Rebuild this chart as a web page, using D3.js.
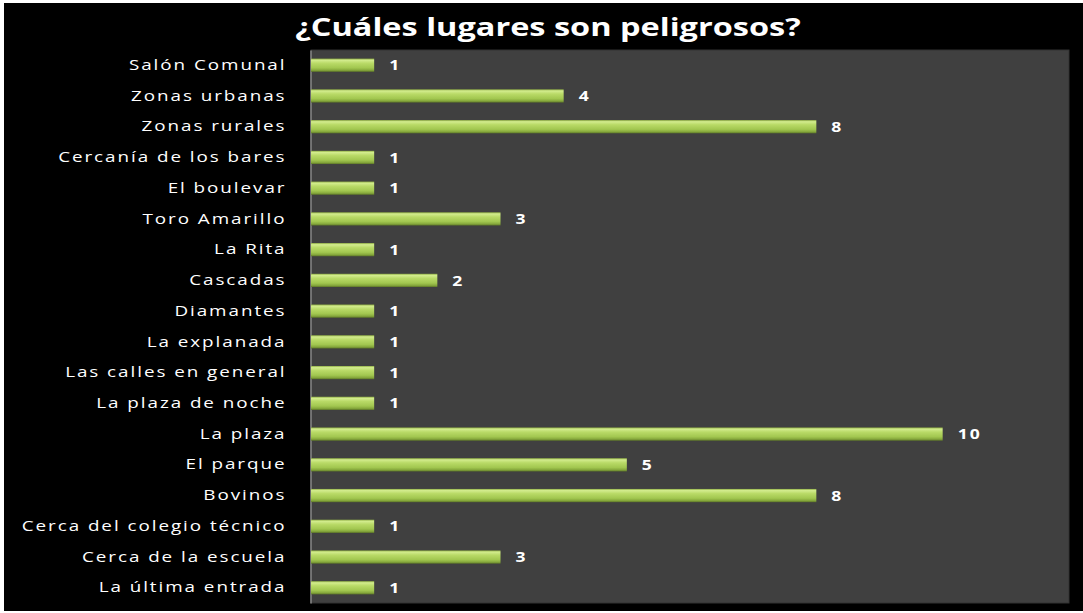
<!DOCTYPE html>
<html>
<head>
<meta charset="utf-8">
<script src="https://cdn.jsdelivr.net/npm/d3@7"></script>
<style>
  body { margin: 0; background: #fff; }
  svg { display: block; }
</style>
</head>
<body>
<div id="chart"></div>
<script>
// Data
let categories = [
  'Salón Comunal', 'Zonas urbanas', 'Zonas rurales', 'Cercanía de los bares',
  'El boulevar', 'Toro Amarillo', 'La Rita', 'Cascadas', 'Diamantes',
  'La explanada', 'Las calles en general', 'La plaza de noche', 'La plaza',
  'El parque', 'Bovinos', 'Cerca del colegio técnico', 'Cerca de la escuela',
  'La última entrada'
];
let values = [1, 4, 8, 1, 1, 3, 1, 2, 1, 1, 1, 1, 10, 5, 8, 1, 3, 1];
let title = '¿Cuáles lugares son peligrosos?';

let data = categories.map((c, i) => ({cat: c, val: values[i]}));

let width = 1083,
    height = 613;

let margin = {top: 50, bottom: 10, left: 311, right: 14};

// the original picture is stretched sideways, so the text is too
let stretch = 1.3;

let svg = d3.select('#chart')
  .append('svg')
  .attr('width', width)
  .attr('height', height);

// black frame with white edge
svg.append('rect')
  .attr('x', 4).attr('y', 3)
  .attr('width', width - 4).attr('height', 608)
  .attr('fill', '#000');

// bar gradient
let defs = svg.append('defs');
let grad = defs.append('linearGradient')
  .attr('id', 'barGrad')
  .attr('x1', 0).attr('y1', 0).attr('x2', 0).attr('y2', 1);
grad.append('stop').attr('offset', '0%').attr('stop-color', '#8fae43');
grad.append('stop').attr('offset', '12%').attr('stop-color', '#d3ec8e');
grad.append('stop').attr('offset', '35%').attr('stop-color', '#b9da67');
grad.append('stop').attr('offset', '70%').attr('stop-color', '#a2c750');
grad.append('stop').attr('offset', '88%').attr('stop-color', '#86a83c');
grad.append('stop').attr('offset', '100%').attr('stop-color', '#5d7628');

// scales
let xScale = d3.scaleLinear()
  .domain([0, 12])
  .range([margin.left, width - margin.right]);

let yScale = d3.scaleBand()
  .domain(categories)
  .range([margin.top, height - margin.bottom])
  .paddingInner(0.57)
  .paddingOuter(0.28);

// plot area
svg.append('rect')
  .attr('x', margin.left)
  .attr('y', margin.top)
  .attr('width', width - margin.right - margin.left)
  .attr('height', height - margin.bottom - margin.top)
  .attr('fill', '#404040')
  .attr('stroke', '#333')
  .attr('stroke-width', 1);

// y axis
let yAxis = svg.append('g')
  .attr('transform', `translate(${margin.left - 0.5},0)`)
  .call(d3.axisLeft(yScale).tickSize(0).tickPadding(24));
yAxis.select('.domain').attr('stroke', '#888').attr('stroke-width', 1.5);
yAxis.selectAll('text')
  .attr('x', -24 / stretch)
  .attr('transform', `scale(${stretch},1)`)
  .style('fill', '#fff')
  .style('font-family', 'Open Sans, sans-serif')
  .style('font-size', '14.5px')
  .style('letter-spacing', '1.5px');

// bars
svg.selectAll('.bar')
  .data(data)
  .enter()
  .append('rect')
  .attr('class', 'bar')
  .attr('x', xScale(0))
  .attr('y', d => yScale(d.cat))
  .attr('width', d => xScale(d.val) - xScale(0))
  .attr('height', yScale.bandwidth())
  .attr('fill', 'url(#barGrad)');

// value labels
svg.selectAll('.val')
  .data(data)
  .enter()
  .append('text')
  .attr('class', 'val')
  .attr('transform', d => `translate(${xScale(d.val) + 15},${yScale(d.cat) + yScale.bandwidth() / 2}) scale(${stretch},1)`)
  .attr('dy', '0.38em')
  .text(d => d.val)
  .style('fill', '#fff')
  .style('font-family', 'Open Sans, sans-serif')
  .style('font-weight', 'bold')
  .style('font-size', '13.5px')
  .style('letter-spacing', '1.5px');

// title
svg.append('text')
  .attr('transform', `translate(548,36) scale(${stretch},1)`)
  .attr('text-anchor', 'middle')
  .text(title)
  .style('fill', '#fff')
  .style('font-family', 'Open Sans, sans-serif')
  .style('font-weight', 'bold')
  .style('font-size', '25px');
</script>
</body>
</html>
